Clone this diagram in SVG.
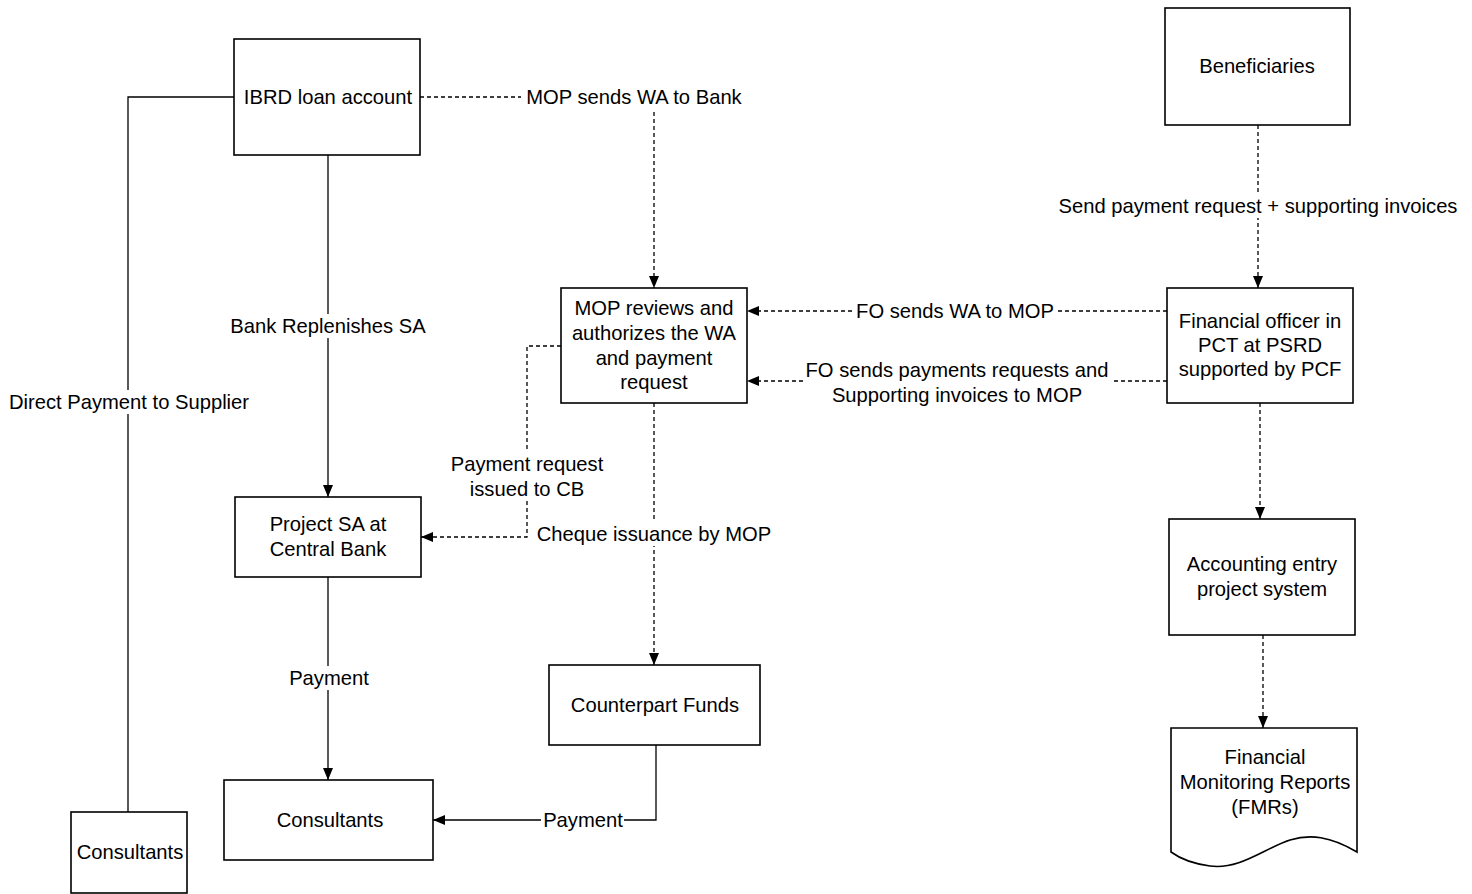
<svg xmlns="http://www.w3.org/2000/svg" width="1472" height="894" viewBox="0 0 1472 894">
<style>
.box{fill:#fff;stroke:#000;stroke-width:1.6}
.t{font-family:"Liberation Sans",Arial,sans-serif;font-size:20.2px;fill:#000;text-anchor:middle}
.ln{fill:none;stroke:#000;stroke-width:1.3}
.dl{fill:none;stroke:#000;stroke-width:1.3;stroke-dasharray:4 3}
.bg{fill:#fff}
</style>
<defs>
<marker id="ah" viewBox="0 0 12 10" refX="12" refY="5" markerWidth="12" markerHeight="10" markerUnits="userSpaceOnUse" orient="auto">
<path d="M0,0 L12,5 L0,10 z" fill="#000"/>
</marker>
</defs>
<rect width="1472" height="894" fill="#fff"/>
<g id="connectors">
<path class="ln" d="M234,97 H128 V812"/>
<path class="ln" d="M328,155 V497" marker-end="url(#ah)"/>
<path class="dl" d="M420,97 H521"/>
<path class="dl" d="M654,112 V288" marker-end="url(#ah)"/>
<path class="dl" d="M1167,311 H747" marker-end="url(#ah)"/>
<path class="dl" d="M1167,381 H747" marker-end="url(#ah)"/>
<path class="dl" d="M561,346 H527 V537 H421" marker-end="url(#ah)"/>
<path class="dl" d="M654,403 V665" marker-end="url(#ah)"/>
<path class="dl" d="M1258,125 V288" marker-end="url(#ah)"/>
<path class="dl" d="M1260,403 V519" marker-end="url(#ah)"/>
<path class="dl" d="M1263,635 V728" marker-end="url(#ah)"/>
<path class="ln" d="M328,577 V780" marker-end="url(#ah)"/>
<path class="ln" d="M656,745 V820 H433" marker-end="url(#ah)"/>
<rect class="bg" x="6" y="390" width="246" height="24"/>
<text class="t" x="129" y="409">Direct Payment to Supplier</text>
<rect class="bg" x="230" y="314" width="196" height="24"/>
<text class="t" x="328" y="333">Bank Replenishes SA</text>
<text class="t" x="634" y="104">MOP sends WA to Bank</text>
<rect class="bg" x="853" y="299" width="204" height="24"/>
<text class="t" x="955" y="318">FO sends WA to MOP</text>
<rect class="bg" x="804" y="357" width="307" height="50"/>
<text class="t" x="957" y="377">FO sends payments requests and</text>
<text class="t" x="957" y="402">Supporting invoices to MOP</text>
<rect class="bg" x="449" y="452" width="156" height="49"/>
<text class="t" x="527" y="471">Payment request</text>
<text class="t" x="527" y="496">issued to CB</text>
<rect class="bg" x="536" y="522" width="236" height="24"/>
<text class="t" x="654" y="541">Cheque issuance by MOP</text>
<rect class="bg" x="1059" y="194" width="398" height="24"/>
<text class="t" x="1258" y="213">Send payment request + supporting invoices</text>
<rect class="bg" x="287" y="666" width="85" height="24"/>
<text class="t" x="329" y="685">Payment</text>
<rect class="bg" x="541" y="808" width="83" height="24"/>
<text class="t" x="583" y="827">Payment</text>
</g>
<g id="ibrd">
<rect class="box" x="234" y="39" width="186" height="116"/>
<text class="t" x="328" y="104">IBRD loan account</text>
</g>
<g id="beneficiaries">
<rect class="box" x="1165" y="8" width="185" height="117"/>
<text class="t" x="1257" y="73">Beneficiaries</text>
</g>
<g id="mop">
<rect class="box" x="561" y="288" width="186" height="115"/>
<text class="t" x="654" y="315">MOP reviews and</text>
<text class="t" x="654" y="340">authorizes the WA</text>
<text class="t" x="654" y="365">and payment</text>
<text class="t" x="654" y="389">request</text>
</g>
<g id="fo">
<rect class="box" x="1167" y="288" width="186" height="115"/>
<text class="t" x="1260" y="328">Financial officer in</text>
<text class="t" x="1260" y="352">PCT at PSRD</text>
<text class="t" x="1260" y="376">supported by PCF</text>
</g>
<g id="projectsa">
<rect class="box" x="235" y="497" width="186" height="80"/>
<text class="t" x="328" y="531">Project SA at</text>
<text class="t" x="328" y="556">Central Bank</text>
</g>
<g id="accounting">
<rect class="box" x="1169" y="519" width="186" height="116"/>
<text class="t" x="1262" y="571">Accounting entry</text>
<text class="t" x="1262" y="596">project system</text>
</g>
<g id="counterpart">
<rect class="box" x="549" y="665" width="211" height="80"/>
<text class="t" x="655" y="712">Counterpart Funds</text>
</g>
<g id="consultants-main">
<rect class="box" x="224" y="780" width="209" height="80"/>
<text class="t" x="330" y="827">Consultants</text>
</g>
<g id="consultants-left">
<rect class="box" x="71" y="812" width="116" height="81"/>
<text class="t" x="130" y="859">Consultants</text>
</g>
<g id="fmr">
<path class="box" d="M1171,728 H1357 V852 C1330,836 1310,834 1290,840 C1265,848 1240,870 1210,866 C1195,864 1182,860 1171,852 Z"/>
<text class="t" x="1265" y="764">Financial</text>
<text class="t" x="1265" y="789">Monitoring Reports</text>
<text class="t" x="1265" y="814">(FMRs)</text>
</g>
</svg>
